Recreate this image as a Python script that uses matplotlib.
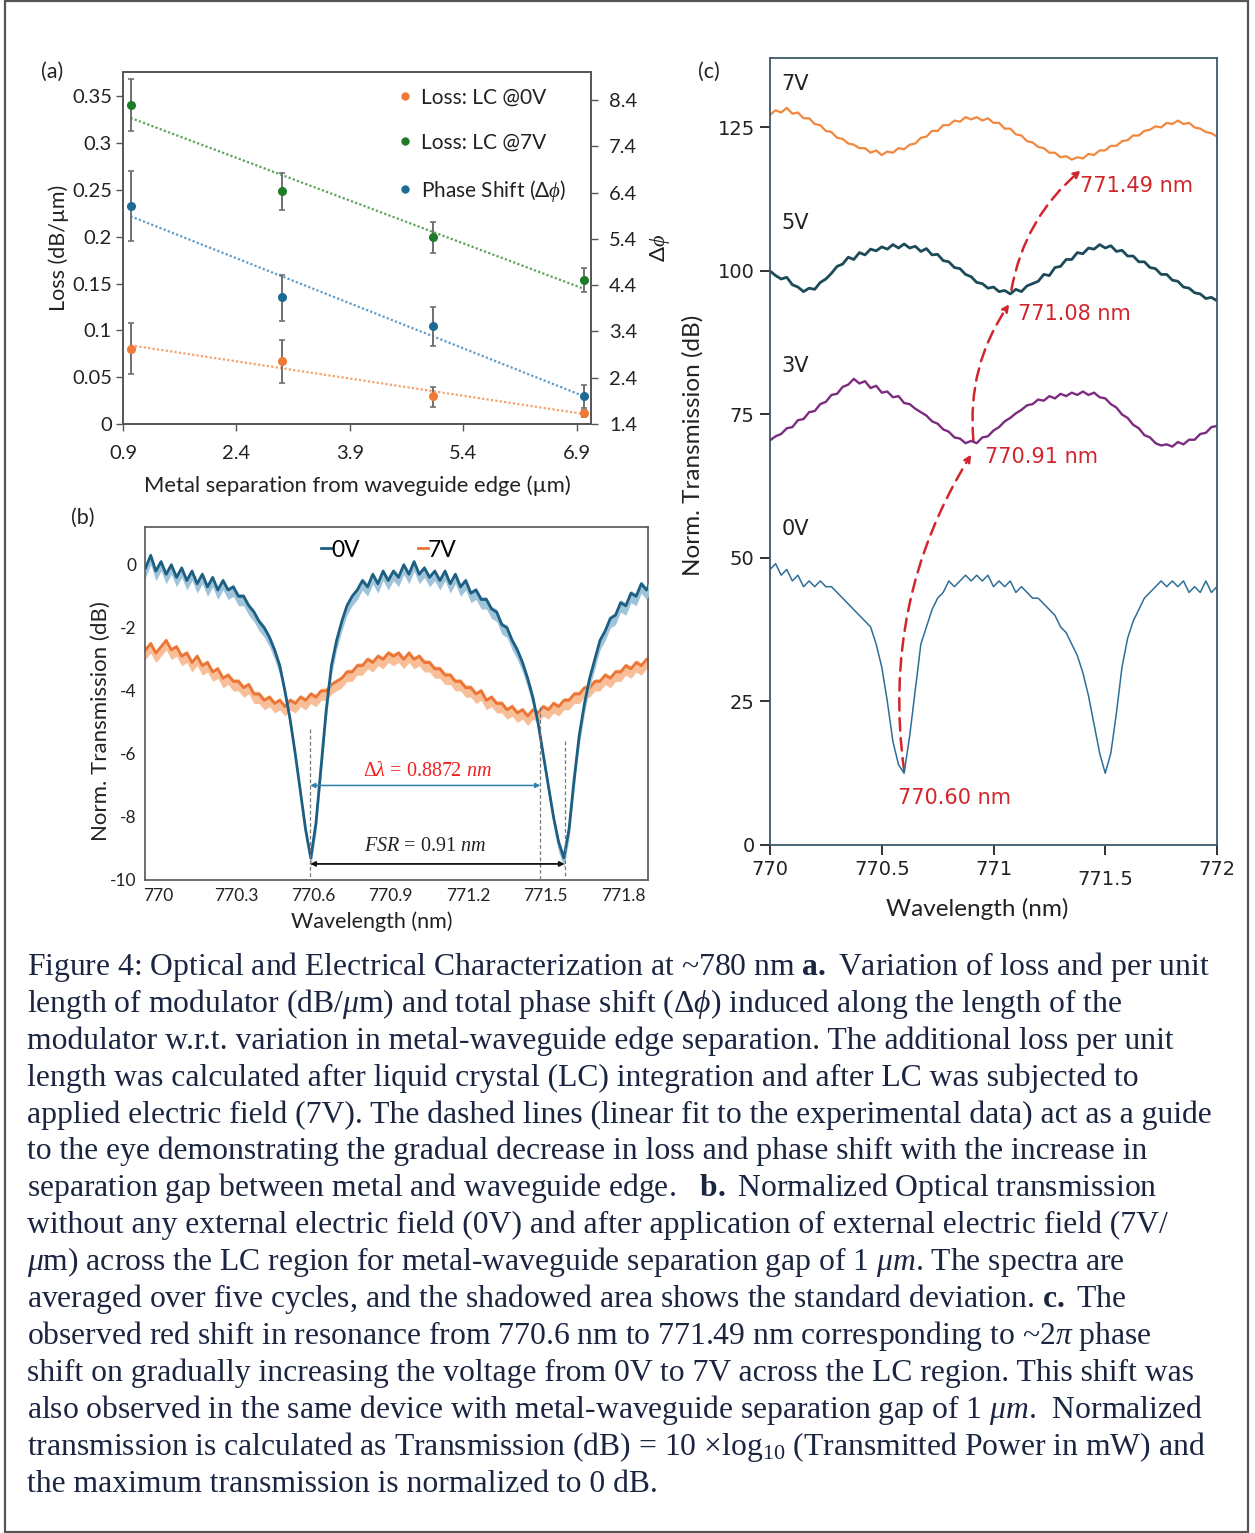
import numpy as np
import matplotlib
matplotlib.use('Agg')
import matplotlib.pyplot as plt
from matplotlib.lines import Line2D
from matplotlib.patches import FancyArrowPatch, Rectangle

plt.rcParams['font.family'] = ['Lato', 'DejaVu Sans']
plt.rcParams['mathtext.fontset'] = 'custom'
plt.rcParams['mathtext.rm'] = 'Liberation Serif'
plt.rcParams['mathtext.it'] = 'Liberation Serif:italic'
plt.rcParams['mathtext.bf'] = 'Liberation Serif:bold'

# ---------------- data: panel (a) ----------------
sep = [1, 3, 5, 7]
loss_0v = [0.0805, 0.0674, 0.0301, 0.0113]
loss_0v_lo = [0.053, 0.044, 0.018, 0.008]
loss_0v_hi = [0.108, 0.090, 0.040, 0.015]
loss_7v = [0.3404, 0.2486, 0.1993, 0.1539]
loss_7v_lo = [0.313, 0.228, 0.183, 0.141]
loss_7v_hi = [0.368, 0.268, 0.216, 0.167]
phase = [6.12, 4.14, 3.52, 2.00]
phase_lo = [5.36, 3.63, 3.08, 1.75]
phase_hi = [6.86, 4.63, 3.94, 2.25]
a_xticks = [0.9, 2.4, 3.9, 5.4, 6.9]
a_yticks = [0, 0.05, 0.1, 0.15, 0.2, 0.25, 0.3, 0.35]
a_yticklabels = ['0', '0.05', '0.1', '0.15', '0.2', '0.25', '0.3', '0.35']
a_rticks = [1.4, 2.4, 3.4, 4.4, 5.4, 6.4, 7.4, 8.4]

# ---------------- data: panel (b) ----------------
wl_b = np.round(769.95 + 0.02 * np.arange(99), 3)
b_0v = [-0.1, 0.3, -0.2, 0.1, -0.3, 0.0, -0.4, -0.1, -0.5, -0.2,
        -0.6, -0.3, -0.7, -0.4, -0.8, -0.5, -0.8, -0.7, -1.0, -1.0,
        -1.3, -1.5, -1.8, -2.0, -2.3, -2.7, -3.2, -4.0, -4.9, -6.0,
        -7.2, -8.4, -9.3, -8.2, -6.4, -4.6, -3.2, -2.4, -1.8, -1.3,
        -1.0, -0.8, -0.5, -0.7, -0.3, -0.6, -0.2, -0.5, -0.2, -0.4,
        0.0, -0.3, 0.1, -0.3, -0.1, -0.4, -0.2, -0.5, -0.2, -0.6,
        -0.3, -0.7, -0.5, -0.9, -0.8, -1.1, -1.1, -1.4, -1.5, -1.9,
        -2.0, -2.4, -2.7, -3.1, -3.6, -4.2, -5.0, -6.0, -7.0, -8.0,
        -8.8, -9.3, -8.4, -6.8, -5.4, -4.4, -3.6, -3.0, -2.4, -2.1,
        -1.7, -1.6, -1.2, -1.3, -0.9, -1.0, -0.6, -0.8, -0.5]
b_7v = [-2.7, -2.5, -2.8, -2.6, -2.4, -2.7, -2.6, -2.9, -2.8, -3.1,
        -2.9, -3.2, -3.1, -3.4, -3.3, -3.6, -3.5, -3.7, -3.7, -3.9,
        -3.8, -4.1, -4.1, -4.3, -4.2, -4.4, -4.3, -4.5, -4.3, -4.4,
        -4.2, -4.3, -4.1, -4.2, -4.0, -4.0, -3.8, -3.7, -3.6, -3.4,
        -3.4, -3.2, -3.2, -3.0, -3.1, -2.9, -3.0, -2.8, -2.9, -2.8,
        -3.0, -2.8, -3.0, -2.9, -3.1, -3.1, -3.3, -3.3, -3.5, -3.5,
        -3.7, -3.7, -3.9, -3.9, -4.1, -4.0, -4.3, -4.2, -4.4, -4.4,
        -4.6, -4.5, -4.7, -4.6, -4.8, -4.6, -4.7, -4.5, -4.6, -4.4,
        -4.5, -4.3, -4.3, -4.1, -4.1, -3.9, -3.9, -3.7, -3.7, -3.5,
        -3.6, -3.4, -3.4, -3.2, -3.3, -3.1, -3.2, -3.0, -3.1]
std_0v = 0.3
std_7v = 0.3
b_xticks = [770, 770.3, 770.6, 770.9, 771.2, 771.5, 771.8]
b_xticklabels = ['770', '770.3', '770.6', '770.9', '771.2', '771.5', '771.8']
b_yticks = [0, -2, -4, -6, -8, -10]
dip_0v_1 = 770.588
dip_7v_2 = 771.479
dip_0v_2 = 771.573

# ---------------- data: panel (c) ----------------
wl_c = np.round(770.0 + 0.025 * np.arange(81), 3)
c_0v = [48, 49, 47, 48, 46, 47, 45, 46, 45, 46,
        45, 45, 44, 43, 42, 41, 40, 39, 38, 35,
        31, 25, 18, 14, 12.5, 19, 27, 35, 38, 41,
        43, 44, 46, 45, 46, 47, 46, 47, 46, 47,
        45, 46, 45, 46, 44, 45, 44, 43, 43, 42,
        41, 40, 38, 37, 35, 33, 30, 26, 21, 16,
        12.5, 16, 23, 31, 36, 39, 41, 43, 44, 45,
        46, 45, 46, 45, 46, 44, 45, 44, 46, 44, 45]
c_3v = [70.5, 71.2, 71.6, 72.6, 72.8, 74.0, 74.2, 75.4, 75.6, 76.8,
        77.2, 78.4, 78.6, 79.8, 80.2, 81.2, 80.4, 80.8, 79.6, 80.0,
        78.8, 79.0, 78.0, 78.2, 77.0, 76.8, 76.0, 75.4, 74.8, 73.8,
        73.4, 72.4, 72.0, 71.0, 70.8, 70.0, 70.4, 70.0, 71.0, 71.2,
        72.2, 72.8, 73.8, 74.4, 75.2, 75.8, 76.6, 76.8, 77.6, 77.4,
        78.2, 77.8, 78.6, 78.2, 78.8, 78.4, 79.0, 78.4, 78.8, 78.0,
        77.8, 76.8, 76.2, 75.0, 74.4, 73.2, 72.6, 71.4, 71.0, 70.0,
        69.6, 69.8, 69.4, 70.2, 69.8, 70.6, 70.6, 71.6, 71.8, 72.8, 73.0]
c_5v = [100.0, 99.2, 98.6, 98.9, 97.6, 97.2, 96.4, 97.0, 96.8, 98.0,
        98.6, 99.6, 100.8, 101.2, 102.4, 102.0, 103.2, 102.8, 103.8, 103.5,
        104.2, 103.8, 104.6, 104.0, 104.7, 104.0, 104.3, 103.4, 103.9, 102.8,
        102.9, 101.8, 101.6, 100.6, 100.4, 99.4, 99.0, 98.0, 97.8, 97.0,
        97.2, 96.4, 96.6, 96.0, 96.8, 96.4, 97.4, 97.8, 98.2, 99.4,
        99.2, 100.6, 100.8, 102.0, 102.0, 103.2, 103.0, 104.0, 103.8, 104.6,
        104.0, 104.4, 103.4, 103.6, 102.6, 102.6, 101.6, 101.6, 100.6, 100.4,
        99.4, 99.4, 98.4, 98.2, 97.2, 97.0, 96.2, 96.0, 95.2, 95.4, 94.8]
c_7v = [127.2, 128.0, 127.6, 128.4, 127.4, 127.6, 126.6, 126.6, 125.6, 125.4,
        124.4, 124.2, 123.2, 123.0, 122.2, 122.0, 121.4, 121.4, 120.6, 121.0,
        120.2, 120.8, 120.6, 121.4, 121.2, 122.0, 122.2, 123.2, 123.4, 124.4,
        124.4, 125.4, 125.4, 126.2, 126.0, 126.8, 126.4, 126.8, 126.2, 126.6,
        125.8, 125.8, 124.8, 124.8, 123.8, 123.6, 122.6, 122.4, 121.6, 121.4,
        120.6, 120.6, 119.8, 120.0, 119.4, 119.8, 119.6, 120.4, 120.2, 121.0,
        121.0, 121.8, 121.8, 122.6, 122.8, 123.6, 123.6, 124.4, 124.6, 125.2,
        125.0, 125.8, 125.6, 126.2, 125.6, 125.8, 125.0, 124.8, 124.2, 124.0, 123.4]
c_xticks = [770, 770.5, 771, 771.5, 772]
c_xticklabels = ['770', '770.5', '771', '771.5', '772']
c_yticks = [0, 25, 50, 75, 100, 125]
res_wl = [770.60, 770.91, 771.08, 771.40]
res_level = [12.5, 70.0, 96.2, 119.5]
res_labels = ['770.60 nm', '770.91 nm', '771.08 nm', '771.49 nm']
volt_labels = ['0V', '3V', '5V', '7V']

caption_lines = [
    "Figure 4: Optical and Electrical Characterization at ~780 nm $\\mathbf{a.}$ Variation of loss and per unit",
    "length of modulator (dB/$\\mathit{\u03bc}$m) and total phase shift ($\\mathit{\u0394\u03d5}$) induced along the length of the",
    "modulator w.r.t. variation in metal-waveguide edge separation. The additional loss per unit",
    "length was calculated after liquid crystal (LC) integration and after LC was subjected to",
    "applied electric field (7V). The dashed lines (linear fit to the experimental data) act as a guide",
    "to the eye demonstrating the gradual decrease in loss and phase shift with the increase in",
    "separation gap between metal and waveguide edge.   $\\mathbf{b.}$ Normalized Optical transmission",
    "without any external electric field (0V) and after application of external electric field (7V/",
    "$\\mathit{\u03bc}$m) across the LC region for metal-waveguide separation gap of 1 $\\mathit{\u03bcm}$. The spectra are",
    "averaged over five cycles, and the shadowed area shows the standard deviation. $\\mathbf{c.}$ The",
    "observed red shift in resonance from 770.6 nm to 771.49 nm corresponding to ~2$\\mathit{\u03c0}$ phase",
    "shift on gradually increasing the voltage from 0V to 7V across the LC region. This shift was",
    "also observed in the same device with metal-waveguide separation gap of 1 $\\mathit{\u03bcm}$.  Normalized",
    "transmission is calculated as Transmission (dB) = 10 \u00d7log$_{10}$ (Transmitted Power in mW) and",
    "the maximum transmission is normalized to 0 dB.",
]

# ---------------- figure ----------------
W, H = 1255, 1533
fig = plt.figure(figsize=(W / 100, H / 100), dpi=100)


def rect(l, t, r, b):
    return [l / W, 1 - b / H, (r - l) / W, (b - t) / H]


fig.patches.append(Rectangle((5 / W, 1 / H), 1243 / W, 1531 / H, transform=fig.transFigure,
                             fill=False, edgecolor='#555555', linewidth=1.6))

# ---------------- panel (a) ----------------
ax = fig.add_axes(rect(123, 72, 591, 424))
axr = ax.twinx()
c_or, c_gr, c_bl = '#EE7A35', '#1E7B2A', '#1E6A94'
c_or_f, c_gr_f, c_bl_f = '#F3A26B', '#5AA55A', '#5E9CCB'
xs = np.array(sep, dtype=float)
for y, lo, hi, col, colf, a in [(loss_0v, loss_0v_lo, loss_0v_hi, c_or, c_or_f, ax),
                                (loss_7v, loss_7v_lo, loss_7v_hi, c_gr, c_gr_f, ax),
                                (phase, phase_lo, phase_hi, c_bl, c_bl_f, axr)]:
    y = np.array(y)
    p = np.polyfit(xs, y, 1)
    a.plot(xs, np.polyval(p, xs), linestyle=(0, (1, 1)), color=colf, linewidth=1.6, zorder=2)
    a.errorbar(xs, y, yerr=[y - np.array(lo), np.array(hi) - y], fmt='o', color=col,
               ecolor='#707070', elinewidth=1.4, capsize=2.2, capthick=1.2, markersize=5.5, zorder=3)
ax.set_xlim(0.9, 7.09)
ax.set_ylim(0, 0.3759)
axr.set_ylim(1.4, 9.01)
ax.set_xticks(a_xticks)
ax.set_xticklabels([str(v) for v in a_xticks])
ax.set_yticks(a_yticks)
ax.set_yticklabels(a_yticklabels)
axr.set_yticks(a_rticks)
axr.set_yticklabels([str(v) for v in a_rticks])
for a in (ax, axr):
    for s in a.spines.values():
        s.set_color('#555555')
        s.set_linewidth(1.2)
    a.tick_params(length=5, width=1, color='#555555', labelsize=14.5, labelcolor='#222222', pad=3)
ax.tick_params(axis='x', pad=10)
axr.tick_params(axis='y', pad=8)
ax.set_xlabel('Metal separation from waveguide edge (\u00b5m)', fontsize=15.8, color='#222222', labelpad=10)
ax.set_ylabel('Loss (dB/\u00b5m)', fontsize=15.5, color='#222222', labelpad=2)
axr.set_ylabel('\u0394$\\phi$', fontsize=16, color='#222222', labelpad=8)
handles = [Line2D([], [], marker='o', linestyle='none', color=c, markersize=5) for c in (c_or, c_gr, c_bl)]
ax.legend(handles, ['Loss: LC @0V', 'Loss: LC @7V', 'Phase Shift (\u0394$\\phi$)'], loc='upper left',
          bbox_to_anchor=(0.57, 0.985), frameon=False, fontsize=15, handlelength=0.5,
          handletextpad=0.5, labelspacing=1.2, borderpad=0, labelcolor='#222222')
fig.text(52 / W, 1 - 72 / H, '(a)', fontsize=15.5, ha='center', va='center', color='#222222')

# ---------------- panel (b) ----------------
bx = fig.add_axes(rect(145, 527, 648, 880))
b0 = np.array(b_0v)
b7 = np.array(b_7v)
bx.fill_between(wl_b, b7 - std_7v, b7 + std_7v * 0.3, color='#F7BE98', linewidth=0, zorder=1)
bx.plot(wl_b, b7, color='#EC7434', linewidth=2.0, zorder=2)
bx.fill_between(wl_b, b0 - std_0v, b0 + std_0v * 0.3, color='#9FC4D9', linewidth=0, zorder=3)
bx.plot(wl_b, b0, color='#1C5F82', linewidth=2.0, zorder=4)
bx.set_xlim(769.948, 771.896)
bx.set_ylim(-10, 1.2)
bx.set_xticks(b_xticks)
bx.set_xticklabels(b_xticklabels)
bx.set_yticks(b_yticks)
bx.set_yticklabels([str(v) for v in b_yticks])
for s in bx.spines.values():
    s.set_color('#555555')
    s.set_linewidth(1.2)
bx.tick_params(length=0, labelsize=12.5, labelcolor='#222222', pad=6)
bx.set_xlabel('Wavelength (nm)', fontsize=15.5, color='#222222')
bx.xaxis.set_label_coords((372 - 145) / 503, -0.09)
bx.set_ylabel('Norm. Transmission (dB)', fontsize=16, color='#222222')
bx.yaxis.set_label_coords(-0.068, 0.45)
for xv, ytop in [(dip_0v_1, -5.2), (dip_7v_2, -4.5), (dip_0v_2, -5.6)]:
    bx.plot([xv, xv], [ytop, -10], color='#777777', linestyle=(0, (3, 2)), linewidth=0.9, zorder=5)
bx.annotate('', xy=(dip_7v_2, -7.0), xytext=(dip_0v_1, -7.0),
            arrowprops=dict(arrowstyle='<|-|>', color='#2F7FA8', lw=1.1, mutation_scale=7,
                            shrinkA=0, shrinkB=0), zorder=6)
bx.annotate('', xy=(dip_0v_2, -9.49), xytext=(dip_0v_1, -9.49),
            arrowprops=dict(arrowstyle='<|-|>', color='#111111', lw=1.3, mutation_scale=7,
                            shrinkA=0, shrinkB=0), zorder=6)
bx.text(771.043, -6.56, '$\\mathit{\u0394\u03bb}$ = 0.8872 $\\mathit{nm}$', color='#F02020',
        fontsize=14.5, ha='center', va='center', family='Liberation Serif')
bx.text(771.032, -8.95, '$\\mathit{FSR}$ = 0.91 $\\mathit{nm}$', color='#222222',
        fontsize=14.5, ha='center', va='center', family='Liberation Serif')
lh = [Line2D([], [], color='#1C5F82', lw=2), Line2D([], [], color='#EC7434', lw=2)]
bx.legend(lh, ['0V', '7V'], loc='upper center', bbox_to_anchor=(0.485, 1.01), ncol=2, frameon=False,
          fontsize=16.5, handlelength=0.45, handletextpad=0.0, columnspacing=2.5, borderpad=0.2)
fig.text(83 / W, 1 - 518 / H, '(b)', fontsize=15.5, ha='center', va='center', color='#222222')

# ---------------- panel (c) ----------------
cx = fig.add_axes(rect(770, 58, 1217, 845))
cx.plot(wl_c, c_0v, color='#2E6F97', linewidth=1.1)
cx.plot(wl_c, c_3v, color='#7D2B80', linewidth=1.7)
cx.plot(wl_c, c_5v, color='#1B4A59', linewidth=2.0)
cx.plot(wl_c, c_7v, color='#F2873F', linewidth=1.6)
cx.set_xlim(770, 772)
cx.set_ylim(0, 137.1)
cx.set_xticks(c_xticks)
cx.set_xticklabels(c_xticklabels)
cx.set_yticks(c_yticks)
cx.set_yticklabels([str(v) for v in c_yticks])
for s in cx.spines.values():
    s.set_color('#3D5868')
    s.set_linewidth(1.3)
cx.tick_params(length=7, width=1.3, color='#222222', labelsize=14, labelcolor='#222222',
               labelfontfamily='DejaVu Sans', pad=4)
cx.xaxis.get_major_ticks()[3].set_pad(11)
cx.set_xlabel('Wavelength (nm)', fontsize=17.5, color='#222222')
cx.xaxis.set_label_coords((977 - 770) / 447, -0.067)
cx.set_ylabel('Norm. Transmission (dB)', fontsize=17.5, color='#222222')
cx.yaxis.set_label_coords(-0.148, (845 - 445) / 787)
red = '#D0262C'
for i in range(3):
    arr = FancyArrowPatch((res_wl[i], res_level[i] + 0.5), (res_wl[i + 1] - 0.01, res_level[i + 1] - 2.0),
                          arrowstyle='-|>', mutation_scale=10, color=red, lw=1.8,
                          linestyle=(0, (5, 3)), connectionstyle='arc3,rad=-0.18',
                          shrinkA=0, shrinkB=0)
    cx.add_patch(arr)
for lab, (tx, ty) in zip(res_labels, [(770.573, 8.2), (770.962, 67.6), (771.11, 92.5), (771.387, 114.8)]):
    cx.text(tx, ty, lab, color=red, fontsize=15, family='DejaVu Sans', ha='left', va='center')
for lab, ty in zip(volt_labels, [55.0, 83.4, 108.4, 132.6]):
    cx.text(770.05, ty, lab, color='#222222', fontsize=15, family='DejaVu Sans', ha='left', va='center')
fig.text(709 / W, 1 - 72 / H, '(c)', fontsize=15.5, ha='center', va='center', color='#222222')

# ---------------- caption ----------------
for k, line in enumerate(caption_lines):
    yb = 975 + 36.9 * k
    fig.text(27 / W, 1 - yb / H, line, fontsize=22.8, family='Liberation Serif',
             color='#1B2541', ha='left', va='baseline')

fig.savefig('out.png', dpi=100, facecolor='white')
